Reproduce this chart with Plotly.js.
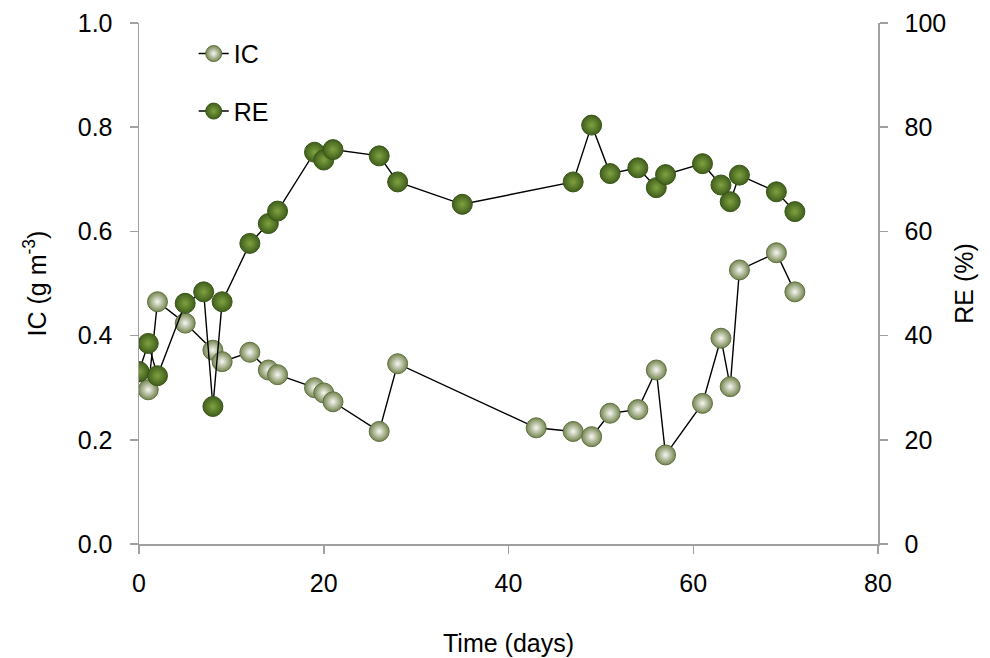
<!DOCTYPE html>
<html>
<head>
<meta charset="utf-8">
<script src="https://cdn.plot.ly/plotly-3.0.1.min.js"></script>
<style>html,body{margin:0;padding:0;background:#fff;}#chart{width:990px;height:658px;}</style>
</head>
<body>
<div id="chart"></div>
<script>
// IC (g m-3) over time
var icDays = [0, 1, 2, 5, 8, 9, 12, 14, 15, 19, 20, 21, 26, 28, 43, 47, 49, 51, 54, 56, 57, 61, 63, 64, 65, 69, 71];
var icValues = [0.33, 0.296, 0.465, 0.424, 0.372, 0.350, 0.368, 0.334, 0.325, 0.300, 0.290, 0.273, 0.216, 0.346, 0.223, 0.216, 0.206, 0.251, 0.258, 0.334, 0.171, 0.270, 0.395, 0.302, 0.526, 0.559, 0.484];
// RE (%) over time
var reDays = [0, 1, 2, 5, 7, 8, 9, 12, 14, 15, 19, 20, 21, 26, 28, 35, 47, 49, 51, 54, 56, 57, 61, 63, 64, 65, 69, 71];
var reValues = [33.1, 38.5, 32.3, 46.2, 48.4, 26.4, 46.5, 57.7, 61.5, 63.9, 75.2, 73.7, 75.7, 74.5, 69.5, 65.2, 69.5, 80.4, 71.1, 72.2, 68.4, 70.9, 73.0, 68.9, 65.7, 70.8, 67.6, 63.8];

var xTicks = [0, 20, 40, 60, 80];
var icTicks = [0, 0.2, 0.4, 0.6, 0.8, 1.0];
var reTicks = [0, 20, 40, 60, 80, 100];

var FONT = "'Liberation Sans', Arial, sans-serif";
var FS = 25;

var traces = [
  {
    x: icDays, y: icValues, name: 'IC', type: 'scatter', mode: 'lines+markers',
    yaxis: 'y', legendgroup: 'a',
    line: {color: '#000000', width: 1.4},
    marker: {size: 20, color: '#74854f', line: {color: '#5f7040', width: 1},
             gradient: {type: 'radial', color: '#f7f7f2'}}
  },
  {
    x: reDays, y: reValues, name: 'RE', type: 'scatter', mode: 'lines+markers',
    yaxis: 'y2', legendgroup: 'b',
    line: {color: '#000000', width: 1.4},
    marker: {size: 20, color: '#3f5e1c', line: {color: '#3a5418', width: 1},
             gradient: {type: 'radial', color: '#80a23f'}}
  }
];

var axisCommon = {
  showgrid: false, zeroline: false, showline: true,
  linecolor: '#a0a0a0', linewidth: 1.5,
  ticks: 'outside', ticklen: 8, tickwidth: 1.5, tickcolor: '#a0a0a0',
  tickfont: {family: FONT, size: FS, color: '#000'},
  automargin: false
};

var layout = {
  width: 990, height: 658,
  margin: {l: 138.5, r: 111.5, t: 22.5, b: 113.5},
  paper_bgcolor: '#ffffff', plot_bgcolor: '#ffffff',
  font: {family: FONT, size: FS, color: '#000'},
  showlegend: true,
  legend: {x: 0.074, y: 0.985, xanchor: 'left', yanchor: 'top',
           bgcolor: 'rgba(0,0,0,0)', tracegroupgap: 22,
           font: {family: FONT, size: FS, color: '#000'}},
  xaxis: Object.assign({}, axisCommon, {
    range: [0, 80], tickvals: xTicks, ticktext: xTicks.map(String),
    ticklabelstandoff: 8,
    title: {text: 'Time (days)', font: {family: FONT, size: FS}, standoff: 39}
  }),
  yaxis: Object.assign({}, axisCommon, {
    range: [0, 1.0], tickvals: icTicks, ticktext: icTicks.map(function(v){return v.toFixed(1);}),
    ticklabelstandoff: 12,
    title: {text: 'IC (g m<sup>-3</sup>)', font: {family: FONT, size: FS}, standoff: 24}
  }),
  yaxis2: Object.assign({}, axisCommon, {
    range: [0, 100], tickvals: reTicks, ticktext: reTicks.map(String),
    overlaying: 'y', side: 'right', anchor: 'x',
    ticklabelstandoff: 12,
    title: {text: 'RE (%)', font: {family: FONT, size: FS}, standoff: 10}
  })
};

Plotly.newPlot('chart', traces, layout, {displayModeBar: false, staticPlot: true});
</script>
</body>
</html>
